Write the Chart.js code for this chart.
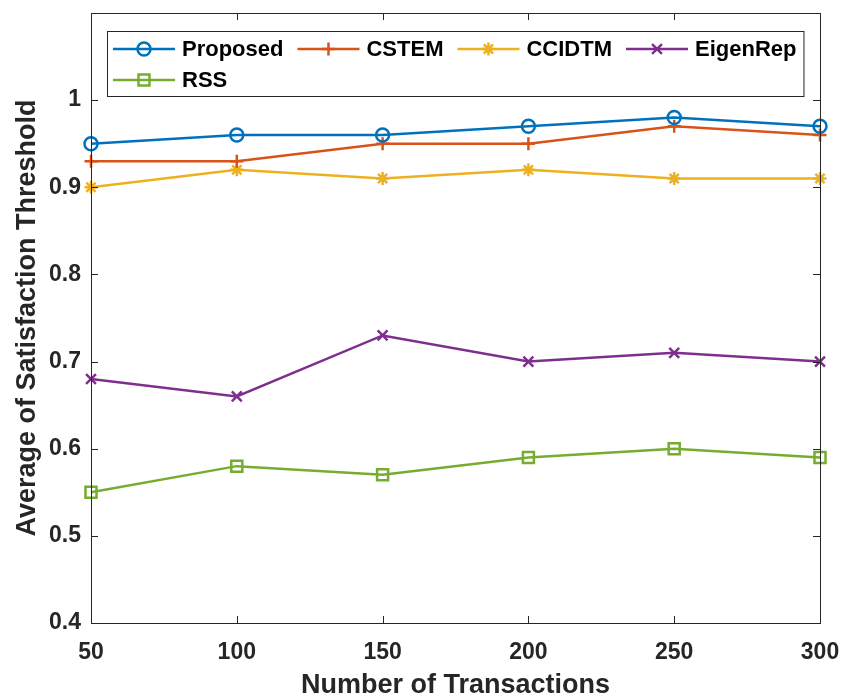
<!DOCTYPE html>
<html>
<head>
<meta charset="utf-8">
<script src="https://cdn.jsdelivr.net/npm/chart.js@4.4.1/dist/chart.umd.min.js"></script>
<style>
  html, body { margin: 0; padding: 0; background: #fff; }
</style>
</head>
<body>
<canvas id="myChart" width="845" height="696"></canvas>
<script>
const transactions = [50, 100, 150, 200, 250, 300];
const proposed = [0.95, 0.96, 0.96, 0.97, 0.98, 0.97];
const cstem = [0.93, 0.93, 0.95, 0.95, 0.97, 0.96];
const ccidtm = [0.90, 0.92, 0.91, 0.92, 0.91, 0.91];
const eigenRep = [0.68, 0.66, 0.73, 0.70, 0.71, 0.70];
const rss = [0.55, 0.58, 0.57, 0.59, 0.60, 0.59];
const seriesNames = ['Proposed', 'CSTEM', 'CCIDTM', 'EigenRep', 'RSS'];

const FONT = "'Liberation Sans', Arial, sans-serif";
const AXIS_CLR = '#262626';

function makeSet(label, values, color, style, radius) {
  return {
    label,
    data: values.map((v, i) => ({ x: transactions[i], y: v })),
    borderColor: color,
    backgroundColor: color,
    borderWidth: 2.5,
    pointStyle: style,
    pointRadius: radius,
    pointBorderWidth: 2.5,
    pointBorderColor: color,
    pointBackgroundColor: 'rgba(0,0,0,0)',
    tension: 0,
    clip: false,
  };
}

// axes box + inward ticks, matlab style
const framePlugin = {
  id: 'frame',
  afterDraw(chart) {
    const { ctx, chartArea: a, scales } = chart;
    ctx.save();
    ctx.strokeStyle = AXIS_CLR;
    ctx.lineWidth = 1;
    ctx.strokeRect(a.left + 0.5, a.top + 0.5, a.right - a.left, a.bottom - a.top);
    const len = 7;
    ctx.beginPath();
    scales.x.ticks.forEach((t) => {
      const px = Math.round(scales.x.getPixelForValue(t.value)) + 0.5;
      ctx.moveTo(px, a.bottom); ctx.lineTo(px, a.bottom - len);
      ctx.moveTo(px, a.top); ctx.lineTo(px, a.top + len);
    });
    scales.y.ticks.forEach((t) => {
      const py = Math.round(scales.y.getPixelForValue(t.value)) + 0.5;
      ctx.moveTo(a.left, py); ctx.lineTo(a.left + len, py);
      ctx.moveTo(a.right, py); ctx.lineTo(a.right - len, py);
    });
    ctx.stroke();
    ctx.restore();
  },
};

// legend in 4 columns, drawn inside the axes
const legendPlugin = {
  id: 'boxLegend',
  afterDraw(chart) {
    const ctx = chart.ctx;
    const sets = chart.data.datasets;
    const startX = 113;
    const rowY = [49, 80];
    const lineLen = 62;
    const textGap = 7;
    const colGap = 14;
    ctx.save();
    ctx.font = 'bold 22px ' + FONT;
    const colW = [0, 0, 0, 0];
    sets.forEach((ds, i) => {
      const w = lineLen + textGap + ctx.measureText(ds.label).width;
      colW[i % 4] = Math.max(colW[i % 4], w);
    });
    const colX = [startX];
    for (let c = 1; c < 4; c++) colX.push(colX[c - 1] + colW[c - 1] + colGap);
    const right = colX[3] + colW[3] + 7;

    ctx.fillStyle = '#fff';
    ctx.fillRect(107, 31, right - 107, 65);
    ctx.strokeStyle = AXIS_CLR;
    ctx.lineWidth = 1;
    ctx.strokeRect(107.5, 31.5, right - 107, 65);

    sets.forEach((ds, i) => {
      const x = colX[i % 4];
      const y = rowY[Math.floor(i / 4)];
      ctx.strokeStyle = ds.borderColor;
      ctx.lineWidth = ds.borderWidth;
      ctx.beginPath();
      ctx.moveTo(x, y); ctx.lineTo(x + lineLen, y);
      ctx.stroke();
      ctx.fillStyle = 'rgba(0,0,0,0)';
      Chart.helpers.drawPoint(ctx, {
        pointStyle: ds.pointStyle,
        radius: ds.pointRadius,
        rotation: 0,
        borderWidth: ds.pointBorderWidth,
      }, x + lineLen / 2, y);
      ctx.fillStyle = '#000';
      ctx.textAlign = 'left';
      ctx.textBaseline = 'middle';
      ctx.fillText(ds.label, x + lineLen + textGap, y + 1);
    });
    ctx.restore();
  },
};

const ctx = document.getElementById('myChart').getContext('2d');
const chart = new Chart(ctx, {
  type: 'line',
  data: {
    datasets: [
      makeSet(seriesNames[0], proposed, '#0072BD', 'circle', 6.5),
      makeSet(seriesNames[1], cstem, '#D95319', 'cross', 6.5),
      makeSet(seriesNames[2], ccidtm, '#EDB120', 'star', 6.5),
      makeSet(seriesNames[3], eigenRep, '#7E2F8E', 'crossRot', 7),
      makeSet(seriesNames[4], rss, '#77AC30', 'rect', 7.8),
    ],
  },
  options: {
    responsive: false,
    animation: false,
    devicePixelRatio: 1,
    layout: { padding: { top: 13, right: 25, left: 0, bottom: 0 } },
    plugins: { legend: { display: false }, tooltip: { enabled: false } },
    scales: {
      x: {
        type: 'linear',
        min: 50,
        max: 300,
        ticks: {
          stepSize: 50,
          color: AXIS_CLR,
          padding: 16,
          font: { family: FONT, size: 23, weight: 'bold' },
        },
        grid: { display: false, drawTicks: false },
        border: { display: false },
        title: {
          display: true,
          text: 'Number of Transactions',
          color: AXIS_CLR,
          font: { family: FONT, size: 27, weight: 'bold', lineHeight: 0.75 },
          padding: { top: 0, bottom: 0 },
        },
        afterFit(scale) {
          scale.height = 73;
          scale.paddingLeft = 0;
          scale.paddingRight = 0;
        },
      },
      y: {
        min: 0.4,
        max: 1.1,
        ticks: {
          stepSize: 0.1,
          color: AXIS_CLR,
          padding: 10,
          font: { family: FONT, size: 23, weight: 'bold' },
          callback: (v) => {
            const r = Math.round(v * 10) / 10;
            return r > 1.05 ? '' : String(r);
          },
        },
        grid: { display: false, drawTicks: false },
        border: { display: false },
        title: {
          display: true,
          text: 'Average of Satisfaction Threshold',
          color: AXIS_CLR,
          font: { family: FONT, size: 27, weight: 'bold', lineHeight: 1 },
          padding: { top: 14, bottom: 0 },
        },
        afterFit(scale) {
          scale.width = 91;
          scale.paddingTop = 0;
          scale.paddingBottom = 0;
        },
      },
    },
  },
  plugins: [framePlugin, legendPlugin],
});
</script>
</body>
</html>
